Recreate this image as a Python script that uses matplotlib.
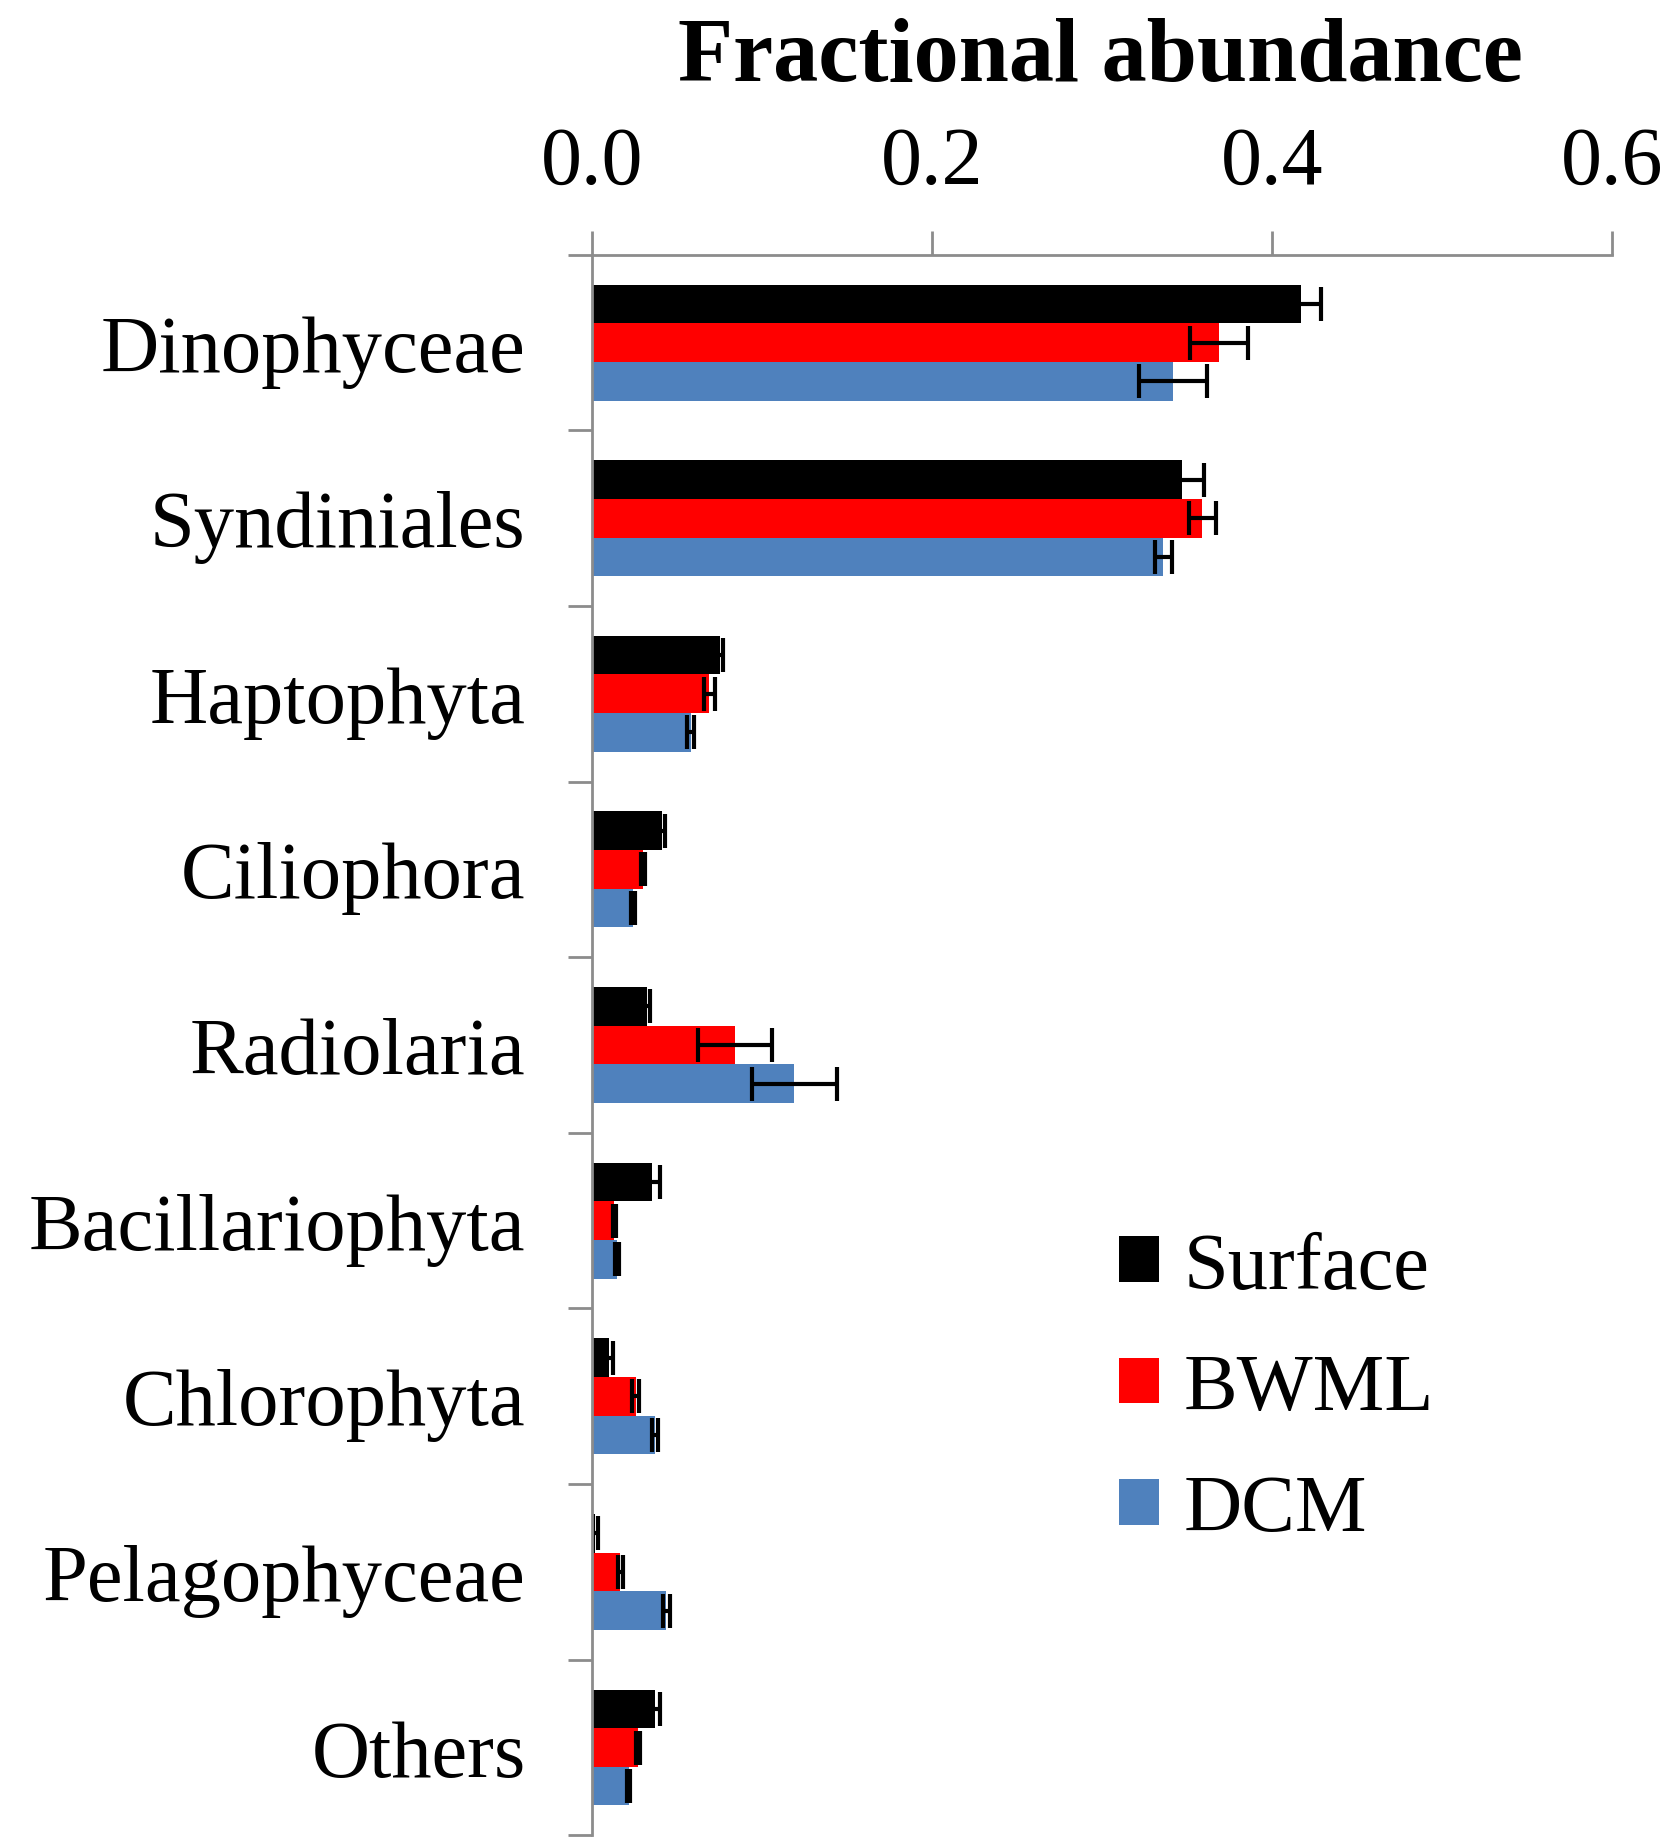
import numpy as np
import matplotlib.pyplot as plt
from matplotlib.patches import Patch

# taxa (top to bottom) and fractional abundance per layer
taxa = ['Dinophyceae', 'Syndiniales', 'Haptophyta', 'Ciliophora', 'Radiolaria',
        'Bacillariophyta', 'Chlorophyta', 'Pelagophyceae', 'Others']
layers = ['Surface', 'BWML', 'DCM']

surface = [0.417, 0.347, 0.075, 0.041, 0.032, 0.035, 0.010, 0.0015, 0.037]
bwml = [0.369, 0.359, 0.069, 0.030, 0.084, 0.013, 0.0255, 0.0165, 0.027]
dcm = [0.342, 0.336, 0.058, 0.024, 0.119, 0.0145, 0.037, 0.0435, 0.0215]

surface_err = [0.012, 0.013, 0.002, 0.002, 0.002, 0.005, 0.002, 0.002, 0.003]
bwml_err = [0.017, 0.008, 0.003, 0.001, 0.022, 0.001, 0.002, 0.0015, 0.001]
dcm_err = [0.020, 0.005, 0.002, 0.001, 0.025, 0.001, 0.002, 0.002, 0.001]

colors = ['#000000', '#FF0000', '#4F81BD']

plt.rcParams['font.family'] = ['Liberation Serif', 'DejaVu Serif']

fig = plt.figure(figsize=(16.8, 18.4), dpi=100)
ax = fig.add_axes([0.3525, 0.002, 0.607, 0.859])

y = np.arange(len(taxa))
h = 0.22
for k, (vals, errs) in enumerate([(surface, surface_err), (bwml, bwml_err), (dcm, dcm_err)]):
    pos = y + (k - 1) * h
    ax.barh(pos, vals, height=h, color=colors[k], edgecolor='none', label=layers[k])
    ax.errorbar(vals, pos, xerr=errs, fmt='none', ecolor='black',
                elinewidth=3, capsize=12, capthick=3)

ax.set_xlim(0, 0.6)
ax.set_ylim(len(taxa) - 0.5, -0.5)

ax.xaxis.tick_top()
ax.set_xticks([0.0, 0.2, 0.4, 0.6])
ax.set_xticklabels(['0.0', '0.2', '0.4', '0.6'])
ax.tick_params(axis='x', which='major', length=17, width=2, color='#8C8C8C',
               labelsize=59, pad=22)

ax.set_yticks(y)
ax.set_yticklabels(taxa)
ax.set_yticks(np.arange(len(taxa) + 1) - 0.5, minor=True)
ax.tick_params(axis='y', which='major', length=0, labelsize=58, pad=48)
ax.tick_params(axis='y', which='minor', length=17, width=2, color='#8C8C8C')

for side in ['right', 'bottom']:
    ax.spines[side].set_visible(False)
for side in ['left', 'top']:
    ax.spines[side].set_color('#8C8C8C')
    ax.spines[side].set_linewidth(2)

fig.text(0.655, 0.968, 'Fractional abundance', ha='center', va='center',
         fontsize=65, fontweight='bold')

handles = [Patch(facecolor=c, edgecolor='none') for c in colors]
fig.legend(handles, layers, loc='upper left', bbox_to_anchor=(0.666, 0.330),
           frameon=False, fontsize=58, handlelength=0.5, handleheight=0.5,
           handletextpad=0.3, labelspacing=0.60, borderpad=0, borderaxespad=0)

fig.savefig('out.png', dpi=100)
